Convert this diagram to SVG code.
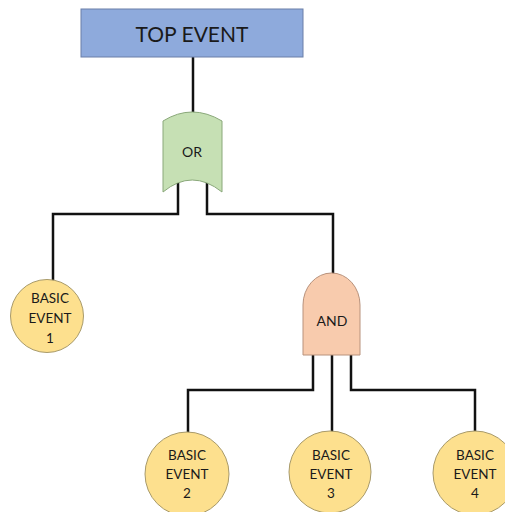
<svg xmlns="http://www.w3.org/2000/svg" width="505" height="512" viewBox="0 0 505 512">
<style>
text{font-family:Lato,"Open Sans","Liberation Sans",sans-serif;fill:#1a1a1a;text-anchor:middle}
.t{font-size:21px}
.g{font-size:14px}
.c{font-size:13.5px}
.ev{fill:#fde08e;stroke:#a89a6a;stroke-width:1}
.wire{fill:none;stroke:#111;stroke-width:2.5;stroke-linejoin:miter}
</style>
<rect width="505" height="512" fill="#fff"/>
<g id="connectors">
<path class="wire" d="M193,57 V113"/>
<path class="wire" d="M178,183 V214 H53 V281"/>
<path class="wire" d="M207,183 V214 H333 V274"/>
<path class="wire" d="M313,355 V390 H188 V433"/>
<path class="wire" d="M332,355 V432"/>
<path class="wire" d="M351,355 V390 H475 V432"/>
</g>
<g id="top-event">
<rect x="81" y="9" width="222" height="48" fill="#8eaadc" stroke="#6a7fa8" stroke-width="1"/>
<text class="t" x="192" y="42">TOP EVENT</text>
</g>
<g id="or-gate">
<path d="M163,121 Q192,103 222,121 L222,192 Q192,168 163,192 Z" fill="#c6e0b4" stroke="#8aa87a" stroke-width="1"/>
<text class="g" x="192" y="157">OR</text>
</g>
<g id="and-gate">
<path d="M303,355 V305 A28.5,32 0 0 1 360,305 V355 Z" fill="#f8cbad" stroke="#b8927c" stroke-width="1"/>
<text class="g" x="332" y="326">AND</text>
</g>
<g id="basic-event-1">
<circle class="ev" cx="47" cy="316" r="36.5"/>
<text class="c" x="50" y="303">BASIC</text>
<text class="c" x="50" y="323">EVENT</text>
<text class="c" x="50" y="343">1</text>
</g>
<g id="basic-event-2">
<circle class="ev" cx="187" cy="474" r="42"/>
<text class="c" x="187" y="460">BASIC</text>
<text class="c" x="187" y="479">EVENT</text>
<text class="c" x="187" y="498">2</text>
</g>
<g id="basic-event-3">
<circle class="ev" cx="330" cy="472" r="41"/>
<text class="c" x="331" y="460">BASIC</text>
<text class="c" x="331" y="479">EVENT</text>
<text class="c" x="331" y="498">3</text>
</g>
<g id="basic-event-4">
<circle class="ev" cx="475" cy="473" r="42"/>
<text class="c" x="475" y="460">BASIC</text>
<text class="c" x="475" y="479">EVENT</text>
<text class="c" x="475" y="498">4</text>
</g>
</svg>
